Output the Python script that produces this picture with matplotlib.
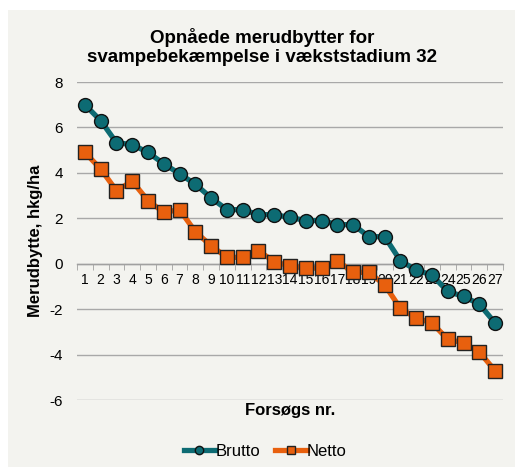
import matplotlib
matplotlib.use("Agg")
import matplotlib.pyplot as plt
from matplotlib.patches import Rectangle

trials = list(range(1, 28))
brutto = [7.0, 6.3, 5.33, 5.24, 4.9, 4.4, 3.96, 3.5, 2.9, 2.38, 2.38, 2.16, 2.16, 2.04,
          1.9, 1.9, 1.72, 1.72, 1.19, 1.19, 0.13, -0.28, -0.5, -1.22, -1.44, -1.78, -2.61]
netto = [4.9, 4.17, 3.22, 3.63, 2.78, 2.26, 2.38, 1.41, 0.79, 0.28, 0.28, 0.57, 0.09, -0.1,
         -0.19, -0.19, 0.13, -0.38, -0.38, -0.93, -1.97, -2.39, -2.61, -3.33, -3.48, -3.89, -4.71]
yticks = [-6, -4, -2, 0, 2, 4, 6, 8]

plt.rcParams['font.family'] = ['Liberation Sans', 'DejaVu Sans']

W, H = 515, 467
fig = plt.figure(figsize=(W / 100, H / 100), dpi=100)
fig.patch.set_facecolor('white')
bg = '#f3f3ef'
fig.patches.append(Rectangle((8 / W, 0), 1 - 8 / W, 1 - 10 / H, transform=fig.transFigure,
                             facecolor=bg, edgecolor='none', zorder=-10))

ax = fig.add_axes([77 / W, 1 - 400 / H, (503 - 77) / W, (400 - 82) / H])
ax.set_zorder(1)
ax.set_facecolor(bg)

teal = '#0d6b73'
orange = '#e8600e'
ax.plot(trials, brutto, color=teal, lw=3.8, marker='o', ms=10, mfc=teal, mec='#111111',
        mew=1.0, label='Brutto', zorder=4)
ax.plot(trials, netto, color=orange, lw=3.8, marker='s', ms=9.5, mfc=orange, mec='#222222',
        mew=1.0, label='Netto', zorder=3)

ax.set_xlim(0.5, 27.5)
ax.set_ylim(-6, 8)
ax.set_yticks(yticks)
ax.set_yticklabels([str(v) for v in yticks], fontsize=11)
ax.tick_params(axis='y', length=0, pad=10)
ax.grid(axis='y', color='#a8a8a8', lw=1.0, zorder=0)
ax.set_axisbelow(True)

ax.set_xticks(trials)
ax.set_xticklabels([str(t) for t in trials], fontsize=8.8)
ax.set_xticks([t + 0.5 for t in [0] + trials], minor=True)
ax.tick_params(axis='x', which='major', length=0, pad=7)
ax.tick_params(axis='x', which='minor', length=4, color='#a0a0a0', direction='out')

for s in ['left', 'top', 'right']:
    ax.spines[s].set_visible(False)
ax.spines['bottom'].set_position(('data', 0))
ax.spines['bottom'].set_color('#a0a0a0')
ax.spines['bottom'].set_linewidth(1.0)

fig.text(262 / W, 1 - 47 / H, 'Opnåede merudbytter for\nsvampebekæmpelse i vækststadium 32',
         ha='center', va='center', fontsize=13.5, fontweight='bold', linespacing=1.1)
fig.text(36 / W, 1 - 241 / H, 'Merudbytte, hkg/ha', rotation=90, ha='center', va='center',
         fontsize=12, fontweight='bold')
fig.text(290 / W, 1 - 411 / H, 'Forsøgs nr.', ha='center', va='center',
         fontsize=12, fontweight='bold')

leg = fig.legend(loc='center', bbox_to_anchor=(265 / W, 1 - 451 / H), ncol=2, frameon=False,
                 fontsize=12, handlelength=1.9, handletextpad=0.0, columnspacing=0.9,
                 markerscale=0.6)

fig.savefig('out.png', dpi=100, facecolor=fig.get_facecolor())
